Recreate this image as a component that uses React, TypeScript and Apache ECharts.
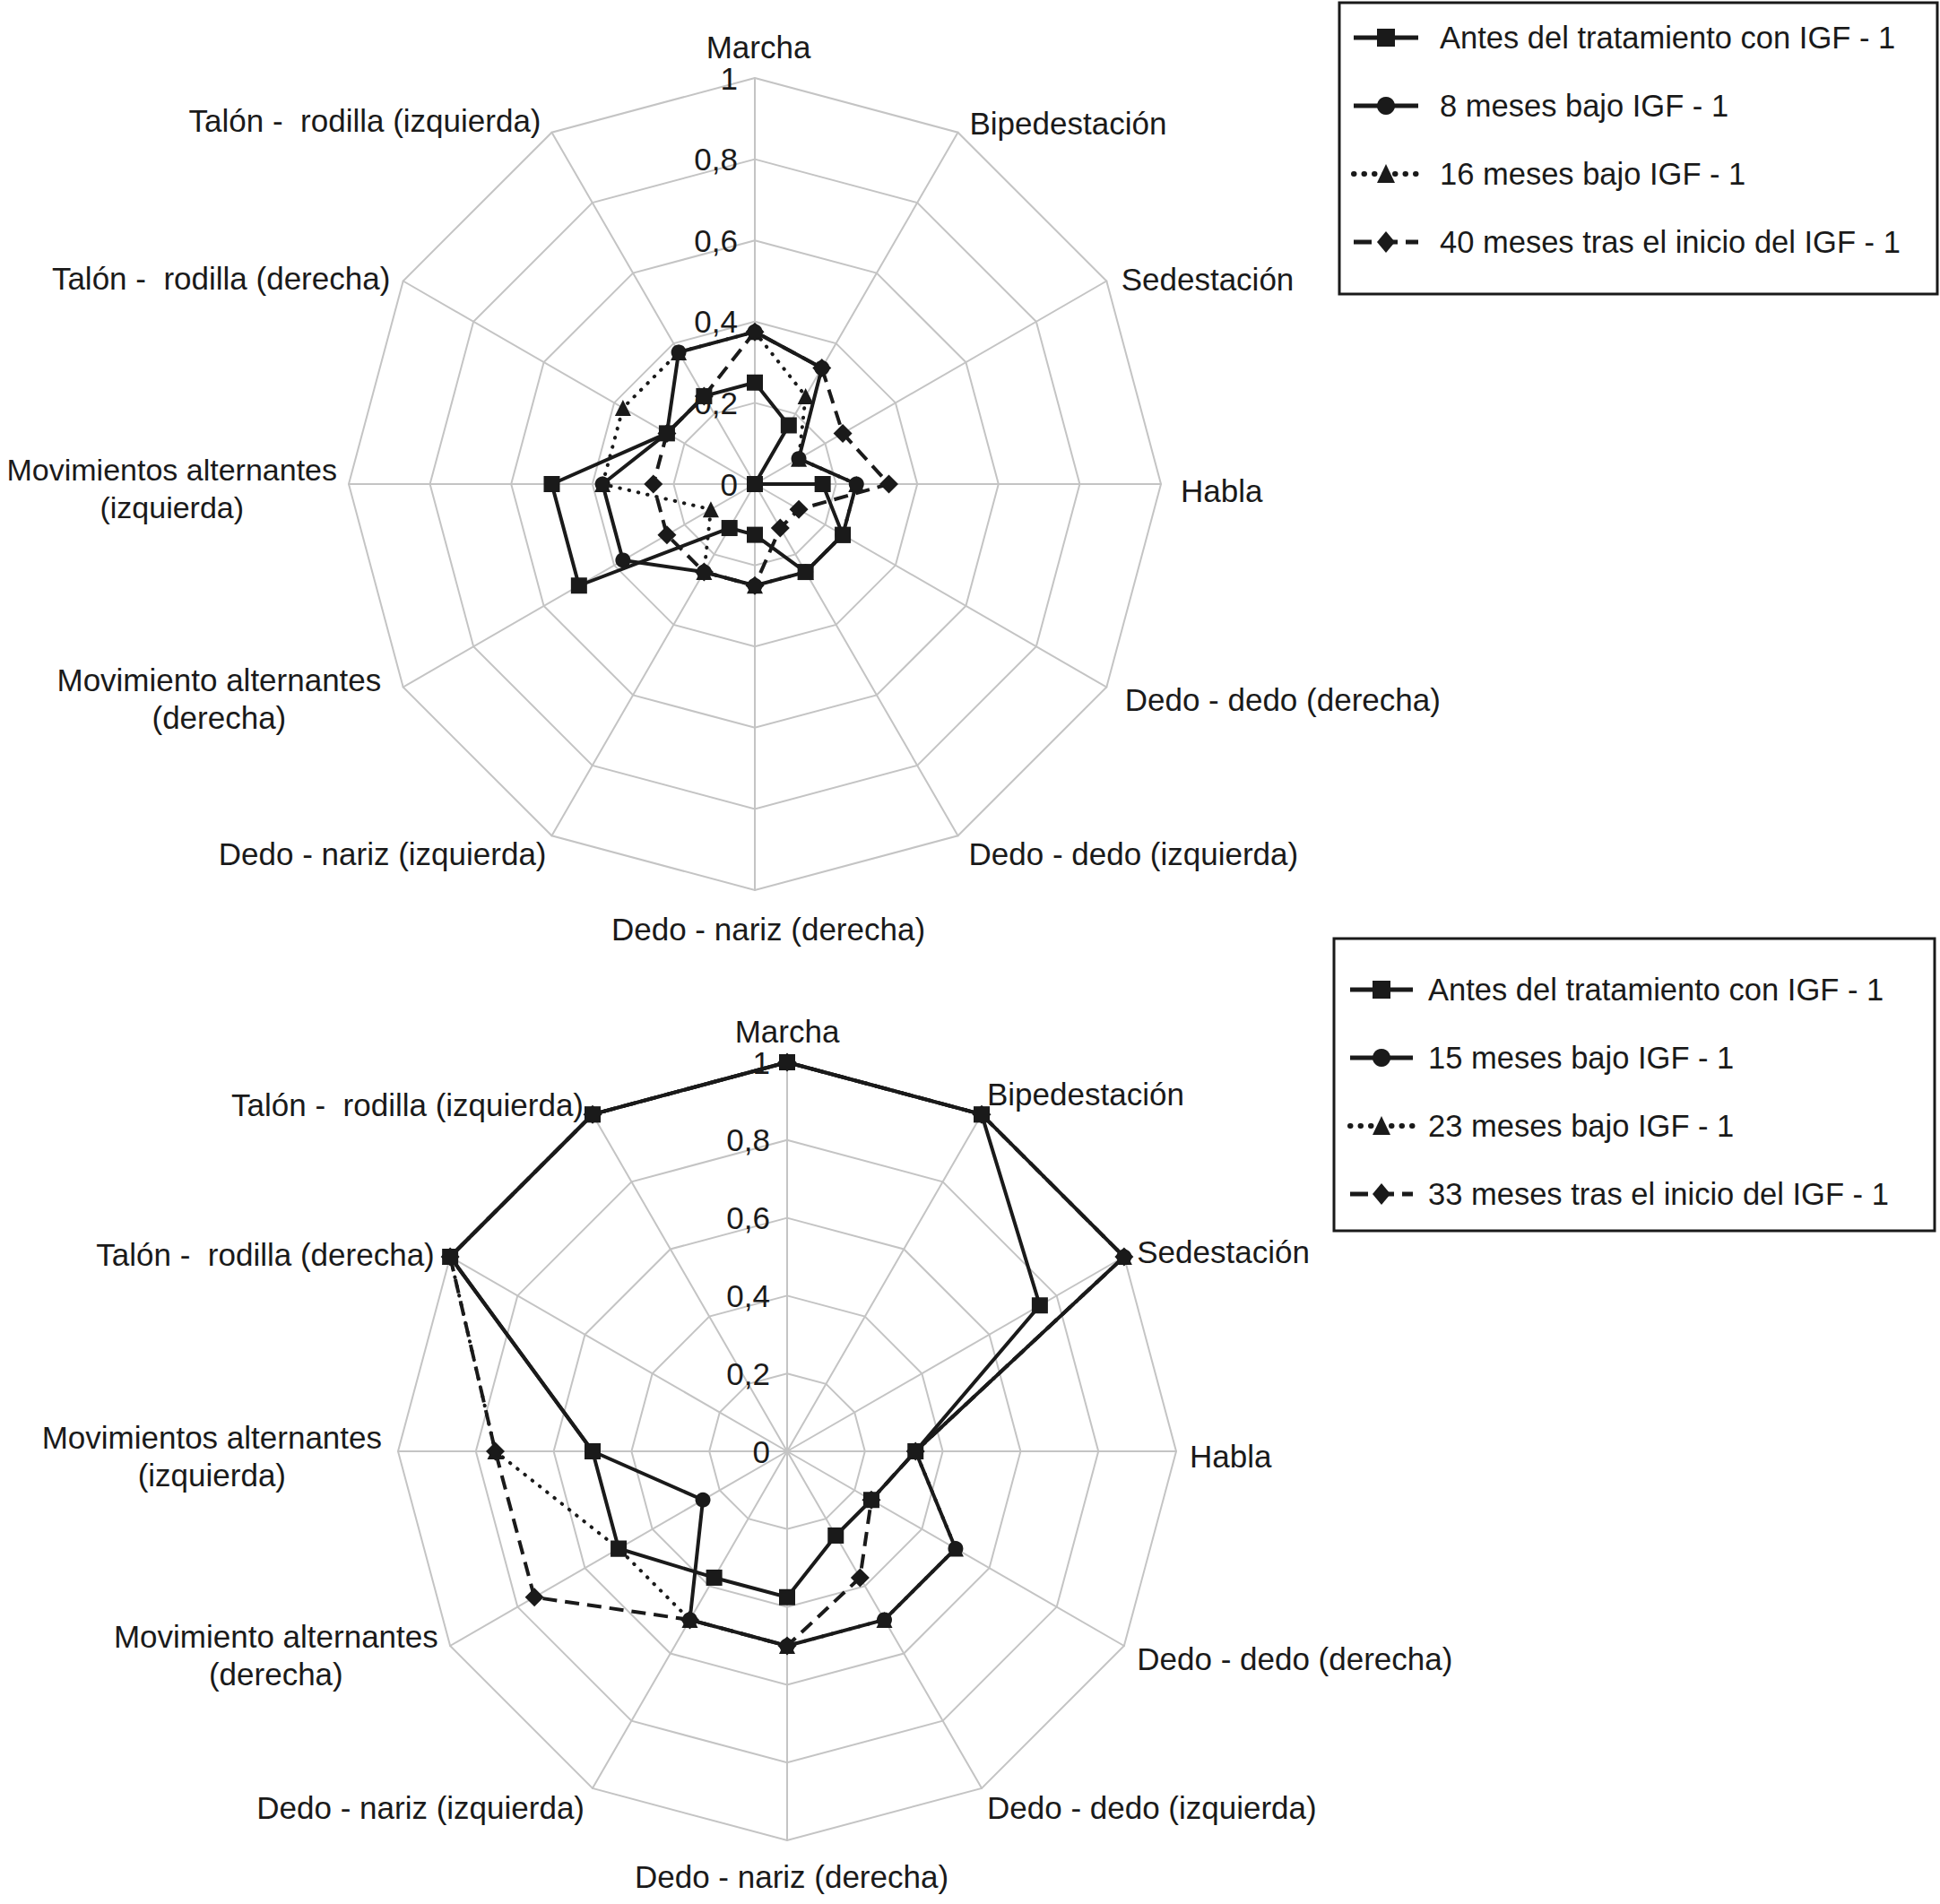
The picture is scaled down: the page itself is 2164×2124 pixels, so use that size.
import React, { useEffect, useRef } from 'react';
import * as echarts from 'echarts';

// Indicators in ECharts order (counter-clockwise starting at the top)
const categories = [
  'Marcha',
  'Talón -  rodilla (izquierda)',
  'Talón -  rodilla (derecha)',
  'Movimientos alternantes\n(izquierda)',
  'Movimiento alternantes\n(derecha)',
  'Dedo - nariz (izquierda)',
  'Dedo - nariz (derecha)',
  'Dedo - dedo (izquierda)',
  'Dedo - dedo (derecha)',
  'Habla',
  'Sedestación',
  'Bipedestación',
];

const tickLabels = ['0', '0,2', '0,4', '0,6', '0,8', '1'];

// Top chart
const topNames = [
  'Antes del tratamiento con IGF - 1',
  '8 meses bajo IGF - 1',
  '16 meses bajo IGF - 1',
  '40 meses tras el inicio del IGF - 1',
];
const topAntes = [0.25, 0.25, 0.25, 0.5, 0.5, 0.125, 0.125, 0.25, 0.25, 0.167, 0, 0.167];
const top8m = [0.375, 0.375, 0.25, 0.375, 0.375, 0.25, 0.25, 0.25, 0.25, 0.25, 0.125, 0.33];
const top16m = [0.375, 0.375, 0.375, 0.375, 0.125, 0.25, 0.25, 0.25, 0.25, 0.25, 0.125, 0.25];
const top40m = [0.375, 0.25, 0.25, 0.25, 0.25, 0.25, 0.25, 0.125, 0.125, 0.33, 0.25, 0.33];

// Bottom chart
const bottomNames = [
  'Antes del tratamiento con IGF - 1',
  '15 meses bajo IGF - 1',
  '23 meses bajo IGF - 1',
  '33 meses tras el inicio del IGF - 1',
];
const botAntes = [1, 1, 1, 0.5, 0.5, 0.375, 0.375, 0.25, 0.25, 0.33, 0.75, 1];
const bot15m = [1, 1, 1, 0.5, 0.25, 0.5, 0.5, 0.5, 0.5, 0.33, 1, 1];
const bot23m = [1, 1, 1, 0.75, 0.5, 0.5, 0.5, 0.5, 0.5, 0.33, 1, 1];
const bot33m = [1, 1, 1, 0.75, 0.75, 0.5, 0.5, 0.375, 0.25, 0.33, 1, 1];

// Small per-label layout nudges (pixels) for the axis names of each chart
const topNameDx = [4, -6, -4, -1, -14, 0, 15, 6, 10, 10, 6, 7];
const topNameDy = [7, -3, 3, 5, 7, 10, 10, 10, 8, 7, 4, 0];
const botNameDx = [0, -4, -7, -6, -3, -3, 5, 0, 4, 3, 4, 0];
const botNameDy = [4, 0, 3, 5, 4, 11, 7, 11, 8, 5, 0, -12];

const FONT = "'Liberation Sans', Arial, Helvetica, sans-serif";
const INK = '#1a1a1a';
const GRID = '#c4c4c4';

const styles = [
  { symbol: 'rect', size: 18, dash: 'solid' as any, cap: 'butt' },
  { symbol: 'circle', size: 17, dash: 'solid' as any, cap: 'butt' },
  { symbol: 'triangle', size: 18, dash: [0.5, 10] as any, cap: 'round' },
  { symbol: 'diamond', size: 21, dash: [16, 9] as any, cap: 'butt' },
];

function richFor(dx: number[], dy: number[], smallIdx: number) {
  const rich: Record<string, any> = {};
  const n = categories.length;
  categories.forEach((_, i) => {
    const pad = [0, 0, 0, 0];
    if (dy[i] > 0) pad[0] = 2 * dy[i];
    else if (dy[i] < 0) pad[2] = -2 * dy[i];
    const side = i === 0 || i === n / 2 ? 'center' : i < n / 2 ? 'left' : 'right';
    if (side === 'center') {
      if (dx[i] > 0) pad[3] = 2 * dx[i];
      else if (dx[i] < 0) pad[1] = -2 * dx[i];
    } else if (side === 'left') {
      if (dx[i] < 0) pad[1] = -dx[i];
    } else if (dx[i] > 0) {
      pad[3] = dx[i];
    }
    rich['n' + i] = {
      align: 'center',
      color: INK,
      fontSize: i === smallIdx ? 34 : 35,
      fontFamily: FONT,
      lineHeight: 42,
      padding: pad,
    };
  });
  return rich;
}

function radarCfg(center: number[], radius: number, dx: number[], dy: number[], smallIdx: number) {
  return {
    center,
    radius,
    startAngle: 90,
    splitNumber: 5,
    shape: 'polygon',
    nameGap: 12,
    axisName: {
      color: INK,
      fontSize: 35,
      fontFamily: FONT,
      lineHeight: 42,
      formatter: (name: string) => {
        const idx = categories.indexOf(name);
        return name
          .split('\n')
          .map((l) => `{n${idx}|${l}}`)
          .join('\n');
      },
      rich: richFor(dx, dy, smallIdx),
    },
    indicator: categories.map((name, i) => ({
      name,
      min: 0,
      max: 1,
      axisLabel: { show: i === 0 },
    })),
    splitLine: { lineStyle: { color: GRID, width: 2 } },
    splitArea: { show: false },
    axisLine: { lineStyle: { color: GRID, width: 2 } },
    axisTick: { show: false },
    axisLabel: {
      show: true,
      showMinLabel: true,
      showMaxLabel: true,
      color: INK,
      fontSize: 35,
      fontFamily: FONT,
      margin: 19,
      padding: [10, 0, 0, 0],
      formatter: (v: number) => tickLabels[Math.round(v * 5)] ?? '',
    },
  };
}

function radarSeries(radarIndex: number, names: string[], values: number[][]) {
  // draw in reverse so the first series (squares) ends on top
  const order = [3, 2, 1, 0];
  return order.map((k) => ({
    type: 'radar',
    radarIndex,
    name: names[k],
    z: 2 + (3 - k),
    symbol: styles[k].symbol,
    symbolSize: styles[k].size,
    itemStyle: { color: INK },
    lineStyle: { color: INK, width: 4, type: styles[k].dash, cap: styles[k].cap },
    data: [{ value: values[k], name: names[k] }],
  }));
}

function legendGraphic(
  box: { x: number; y: number; w: number; h: number },
  rowsY: number[],
  iconX: number[],
  textX: number,
  names: string[]
) {
  const els: any[] = [
    {
      type: 'rect',
      shape: { x: box.x, y: box.y, width: box.w, height: box.h },
      style: { fill: '#fff', stroke: INK, lineWidth: 3 },
    },
  ];
  names.forEach((name, k) => {
    const y = rowsY[k];
    const cx = (iconX[0] + iconX[1]) / 2;
    els.push({
      type: 'line',
      shape: { x1: iconX[0], y1: y, x2: iconX[1], y2: y },
      style: {
        stroke: INK,
        lineWidth: k === 2 ? 6 : 5,
        lineDash: styles[k].dash === 'solid' ? null : k === 2 ? [0.5, 11] : [20, 9],
        lineCap: styles[k].cap,
      },
    });
    const s = 10;
    if (styles[k].symbol === 'rect') {
      els.push({ type: 'rect', shape: { x: cx - s, y: y - s, width: 2 * s, height: 2 * s }, style: { fill: INK } });
    } else if (styles[k].symbol === 'circle') {
      els.push({ type: 'circle', shape: { cx, cy: y, r: s }, style: { fill: INK } });
    } else if (styles[k].symbol === 'triangle') {
      els.push({
        type: 'polygon',
        shape: { points: [[cx, y - s - 1], [cx + s, y + s], [cx - s, y + s]] },
        style: { fill: INK },
      });
    } else {
      els.push({
        type: 'polygon',
        shape: { points: [[cx, y - 12], [cx + 10, y], [cx, y + 12], [cx - 10, y]] },
        style: { fill: INK },
      });
    }
    els.push({
      type: 'text',
      x: textX,
      y,
      style: { text: name, fill: INK, font: `34.5px ${FONT}`, verticalAlign: 'middle' },
    });
  });
  return els;
}

export default function App() {
  const ref = useRef<HTMLDivElement>(null);
  useEffect(() => {
    document.body.style.margin = '0';
    if (!ref.current) return;
    const chart = echarts.init(ref.current, undefined, { renderer: 'svg' });
    chart.setOption({
      animation: false,
      backgroundColor: '#ffffff',
      textStyle: { fontFamily: FONT },
      radar: [
        radarCfg([842, 540], 453, topNameDx, topNameDy, 3),
        radarCfg([878, 1619], 434, botNameDx, botNameDy, -1),
      ],
      series: [
        ...radarSeries(0, topNames, [topAntes, top8m, top16m, top40m]),
        ...radarSeries(1, bottomNames, [botAntes, bot15m, bot23m, bot33m]),
      ],
      graphic: [
        ...legendGraphic({ x: 1494, y: 3, w: 667, h: 325 }, [42, 118, 194, 270], [1510, 1582], 1606, topNames),
        ...legendGraphic(
          { x: 1488, y: 1047, w: 670, h: 326 },
          [1104, 1180, 1256, 1332],
          [1506, 1576],
          1593,
          bottomNames
        ),
      ],
    });
    return () => chart.dispose();
  }, []);
  return <div ref={ref} style={{ width: 2164, height: 2124 }} />;
}
